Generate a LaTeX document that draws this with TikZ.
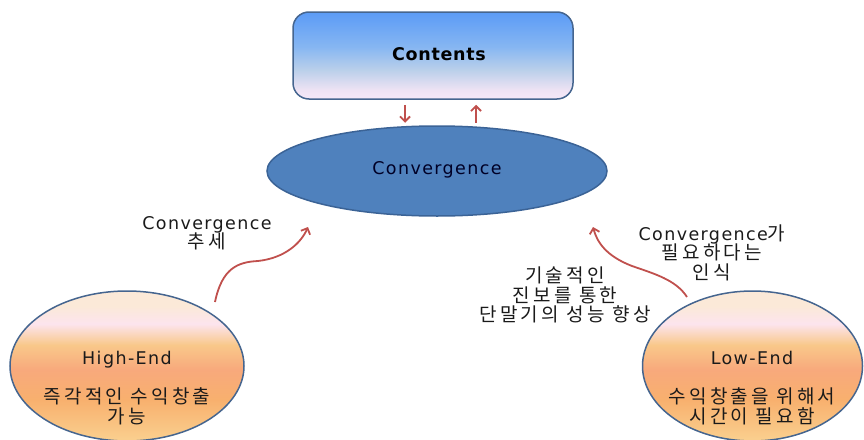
\documentclass[tikz,border=0pt]{standalone}
\usepackage{fontspec}
\setmainfont{DejaVu Sans}[LetterSpace=8]
\newfontfamily\boldlat{DejaVu Sans}[LetterSpace=4]
\newfontfamily\kofont{Noto Sans CJK KR}[LetterSpace=17]
\newcommand{\ko}[1]{{\kofont\fontsize{19}{19.5}\selectfont #1}}
\usetikzlibrary{shapes.geometric,arrows.meta,calc}
\definecolor{redarr}{HTML}{C0504D}
\definecolor{convfill}{HTML}{4F81BD}
\definecolor{convdraw}{HTML}{3B6396}
\definecolor{rimblue}{HTML}{45658F}
\definecolor{txt}{HTML}{1A1A1A}
\definecolor{c0}{HTML}{5B9BF6}
\definecolor{c1}{HTML}{86B6F2}
\definecolor{c2}{HTML}{B9CFEA}
\definecolor{c3}{HTML}{EFE3F4}
\definecolor{c4}{HTML}{F5E8F8}
\definecolor{o0}{HTML}{FBE9D8}
\definecolor{o1}{HTML}{FCE4EE}
\definecolor{o2}{HTML}{F9C88A}
\definecolor{o3}{HTML}{F8A97C}
\definecolor{o4}{HTML}{F8B06E}
\definecolor{o5}{HTML}{FAD08F}
\pgfdeclareverticalshading{contshade}{100bp}{color(0bp)=(c4); color(25bp)=(c4); color(30bp)=(c3); color(42bp)=(c2); color(55bp)=(c1); color(75bp)=(c0); color(100bp)=(c0)}
\pgfdeclareverticalshading{orbshade}{100bp}{color(0bp)=(o5); color(25bp)=(o5); color(38.8bp)=(o4); color(48.8bp)=(o3); color(57bp)=(o2); color(64bp)=(o1); color(70bp)=(o0); color(100bp)=(o0)}
\tikzset{
  boxstyle/.style={draw=rimblue, line width=1.5pt, rounded corners=16pt, shading=contshade, minimum width=280pt, minimum height=87pt, inner sep=0pt},
  convstyle/.style={ellipse, draw=convdraw, line width=1.5pt, fill=convfill, minimum width=340pt, minimum height=90pt, inner sep=0pt},
  orbstyle/.style={ellipse, draw=rimblue, line width=1.5pt, shading=orbshade, inner sep=0pt, minimum height=150pt},
  txtstyle/.style={text=txt, font=\fontsize{17.5}{19.5}\selectfont, align=center, inner sep=0pt},
  redarrow/.style={draw=redarr, line width=1.8pt, -{Straight Barb[length=5pt,width=10pt]}},
}
\begin{document}
\begin{tikzpicture}[x=1pt,y=-1pt]
\useasboundingbox (0,0) rectangle (864,439);
\node[boxstyle] (contents) at (433,55.5) {};
\node[txtstyle, font=\boldlat\fontsize{17.5}{19.5}\selectfont\bfseries, text=black] (contentstxt) at (439,54) {Contents};
\node[convstyle] (conv) at (437,171) {};
\node[txtstyle, text=black!85!blue] (convtxt) at (437,170) {Convergence};
\node[orbstyle, minimum width=234pt] (high) at (127,366) {};
\node[orbstyle, minimum width=220pt] (low) at (752.5,366) {};
\node[txtstyle] (hightxt) at (127,388) {High-End\\[19.5pt]\ko{즉각적인 수익창출}\\\ko{가능}};
\node[txtstyle] (lowtxt) at (752,388) {Low-End\\[19.5pt]\ko{수익창출을 위해서}\\\ko{시간이 필요함}};
\node[txtstyle] (lab1) at (207,233.5) {Convergence\\\ko{추세}};
\node[txtstyle] (lab2) at (712,252.5) {Convergence\ko{가}\\\ko{필요하다는}\\\ko{인식}};
\node[txtstyle] (lab3) at (565,295) {\ko{기술적인}\\\ko{진보를 통한}\\\ko{단말기의 성능 향상}};
% small arrows between Contents and Convergence
\draw[redarrow] ($(contents.south)+(-28,5)$) coordinate (d1) -- ($(contents.south)+(-28,23)$) coordinate (d2);
\draw[redarrow] ($(contents.south)+(43,23)$) coordinate (u1) -- ($(contents.south)+(43,5)$) coordinate (u2);
% curved arrows
\coordinate (hs) at (215,302);
\coordinate (ht) at (308,227);
\coordinate (ls) at (687,297);
\coordinate (lt) at (593,227);
\draw[redarrow] (hs) .. controls (222,268) and (238,262) .. (258,261) .. controls (285,258) and (301,243) .. (ht);
\draw[redarrow] (ls) .. controls (676,280) and (655,274) .. (632,266) .. controls (606,256) and (597,242) .. (lt);
\end{tikzpicture}
\end{document}
